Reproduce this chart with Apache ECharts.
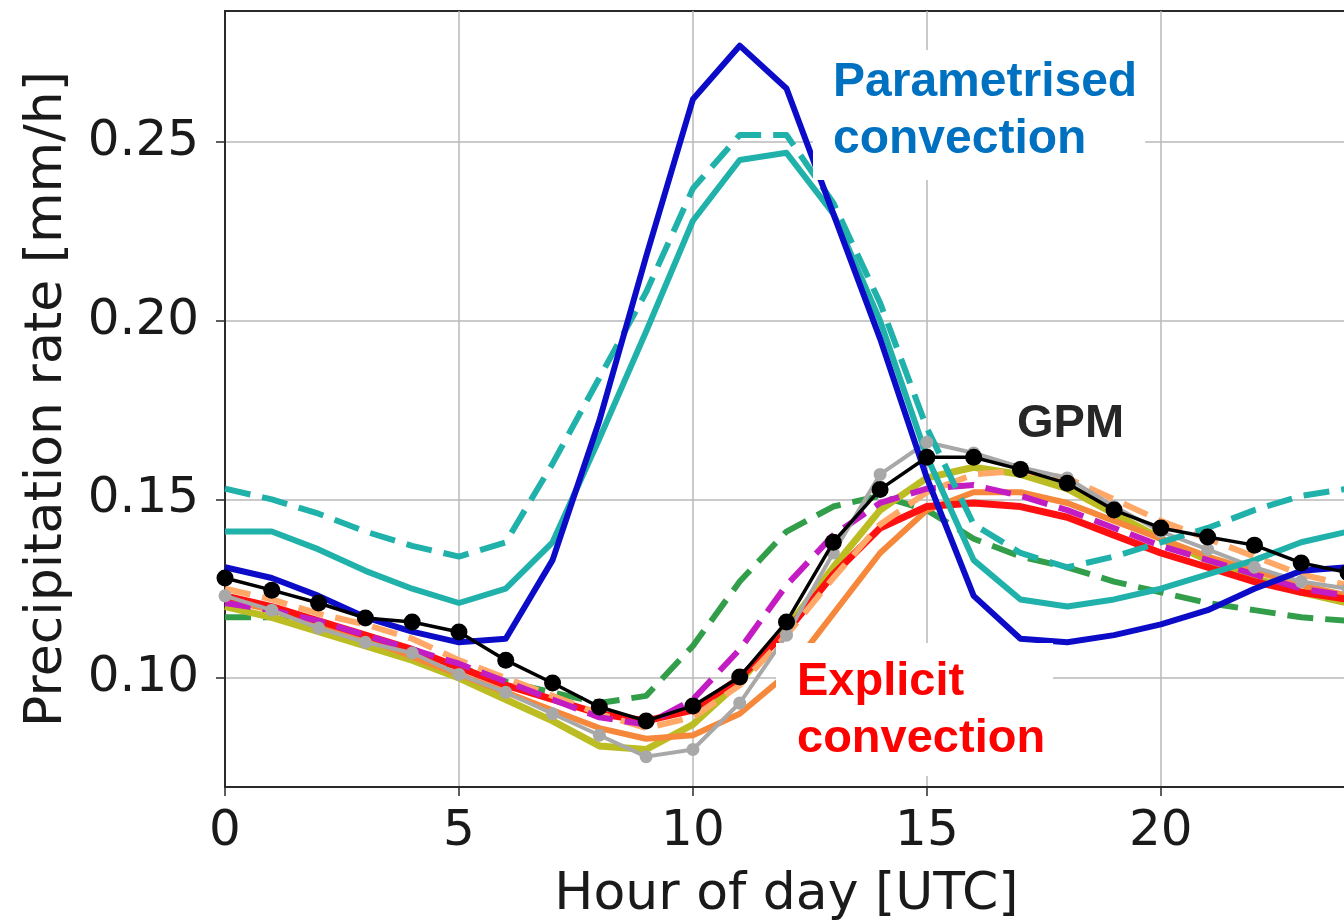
<!DOCTYPE html>
<html>
<head>
<meta charset="utf-8">
<script src="https://cdn.jsdelivr.net/npm/echarts@6/dist/echarts.min.js"></script>
<style>
html,body{margin:0;padding:0;background:#fff;}
#chart{width:1344px;height:921px;}
</style>
</head>
<body>
<div id="chart"></div>
<script>
// ---- data ----
const hours = [0,1,2,3,4,5,6,7,8,9,10,11,12,13,14,15,16,17,18,19,20,21,22,23,24];
const xTicks = [0,5,10,15,20];
const yTicks = [0.10,0.15,0.20,0.25];

// Parametrised convection
const paramBlue    = [0.131,0.128,0.123,0.117,0.113,0.110,0.111,0.133,0.172,0.218,0.262,0.277,0.265,0.230,0.195,0.156,0.123,0.111,0.110,0.112,0.115,0.119,0.125,0.130,0.131];
const paramCyan    = [0.141,0.141,0.136,0.130,0.125,0.121,0.125,0.138,0.167,0.197,0.228,0.245,0.247,0.230,0.200,0.162,0.133,0.122,0.120,0.122,0.125,0.129,0.133,0.138,0.141];
const paramCyanDsh = [0.153,0.150,0.146,0.141,0.137,0.134,0.138,0.160,0.184,0.208,0.237,0.252,0.252,0.233,0.205,0.170,0.143,0.135,0.131,0.134,0.138,0.142,0.147,0.151,0.153];

// Explicit convection
const explGreenDsh = [0.117,0.117,0.114,0.111,0.107,0.103,0.099,0.096,0.093,0.095,0.109,0.127,0.141,0.148,0.151,0.147,0.139,0.134,0.131,0.127,0.124,0.121,0.119,0.117,0.116];
const explMagenta  = [0.121,0.119,0.116,0.112,0.108,0.104,0.099,0.094,0.089,0.087,0.094,0.108,0.126,0.140,0.149,0.153,0.154,0.151,0.147,0.142,0.137,0.133,0.129,0.125,0.123];
const explRed      = [0.123,0.120,0.116,0.112,0.108,0.103,0.098,0.094,0.090,0.088,0.091,0.100,0.113,0.129,0.142,0.148,0.149,0.148,0.145,0.140,0.135,0.131,0.127,0.124,0.122];
const explOrange   = [0.122,0.119,0.115,0.111,0.106,0.101,0.096,0.091,0.086,0.083,0.084,0.090,0.101,0.118,0.135,0.147,0.152,0.152,0.149,0.144,0.139,0.134,0.130,0.126,0.123];
const explOrangeDsh= [0.125,0.122,0.118,0.115,0.111,0.105,0.100,0.095,0.090,0.086,0.089,0.098,0.112,0.128,0.143,0.152,0.157,0.158,0.156,0.150,0.144,0.139,0.134,0.129,0.126];
const explOlive    = [0.120,0.117,0.113,0.109,0.105,0.100,0.094,0.088,0.081,0.080,0.087,0.099,0.114,0.131,0.147,0.156,0.159,0.157,0.153,0.146,0.139,0.133,0.128,0.124,0.121];
const explGray     = [0.123,0.119,0.114,0.110,0.107,0.101,0.096,0.090,0.084,0.078,0.080,0.093,0.112,0.135,0.157,0.166,0.163,0.159,0.156,0.148,0.141,0.136,0.131,0.127,0.125];

// Observations
const gpm          = [0.128,0.1246,0.121,0.1168,0.1157,0.1129,0.105,0.0986,0.0919,0.088,0.0922,0.1003,0.1157,0.138,0.1528,0.1618,0.1618,0.1584,0.1545,0.147,0.142,0.1395,0.1372,0.1322,0.1295];

// ---- chart ----
const pairs = arr => hours.map((h, i) => [h, arr[i]]);
const chart = echarts.init(document.getElementById('chart'), null, {renderer: 'canvas'});

function line(data, color, opts) {
  opts = opts || {};
  return {
    type: 'line',
    data: pairs(data),
    showSymbol: !!opts.symbol,
    symbol: opts.symbol ? 'circle' : 'none',
    symbolSize: opts.symbolSize || 0,
    itemStyle: {color: color},
    lineStyle: {color: color, width: opts.width || 6, type: opts.dash ? [26, 12] : 'solid', cap: 'butt', join: 'round'},
    z: opts.z || 2,
    silent: true,
    clip: true
  };
}

const font = 'DejaVu Sans';
const option = {
  animation: false,
  backgroundColor: '#ffffff',
  grid: {left: 225, top: 11, width: 1123, height: 776, outerBoundsMode: 'none', containLabel: false,
    show: true, borderColor: '#2a2a2a', borderWidth: 2, backgroundColor: '#fff'},
  xAxis: {
    type: 'value', min: 0, max: 24,
    name: 'Hour of day [UTC]', nameLocation: 'middle', nameGap: 82,
    nameTextStyle: {fontFamily: font, fontSize: 52, color: '#1a1a1a'},
    axisLine: {onZero: false, lineStyle: {color: '#2a2a2a', width: 2}},
    axisTick: {show: true, length: 9, lineStyle: {color: '#2a2a2a', width: 1.5}, customValues: xTicks},
    axisLabel: {fontFamily: font, fontSize: 50, color: '#1a1a1a', margin: 20, customValues: xTicks},
    splitLine: {show: true, lineStyle: {color: '#b8b8b8', width: 1.5}}
  },
  yAxis: {
    type: 'value', min: 0.0695, max: 0.2867,
    name: 'Precipitation rate [mm/h]', nameLocation: 'middle', nameGap: 152, nameRotate: 90,
    nameTextStyle: {fontFamily: font, fontSize: 52, color: '#1a1a1a'},
    axisLine: {show: true, onZero: false, lineStyle: {color: '#2a2a2a', width: 2}},
    axisTick: {show: true, length: 9, lineStyle: {color: '#2a2a2a', width: 1.5}, customValues: yTicks},
    axisLabel: {fontFamily: font, fontSize: 50, color: '#1a1a1a', margin: 26, customValues: yTicks,
      formatter: v => v.toFixed(2)},
    splitLine: {show: true, lineStyle: {color: '#b8b8b8', width: 1.5}}
  },
  series: [
    line(explGreenDsh, '#339e4a', {dash: true}),
    line(explOlive, '#bcbd22', {width: 7}),
    line(explOrange, '#f5883a', {width: 6}),
    line(explRed, '#ff1010', {width: 7}),
    line(explOrangeDsh, '#ffa868', {dash: true}),
    line(explMagenta, '#c21cc2', {dash: true}),
    line(explGray, '#a8a8a8', {symbol: true, symbolSize: 13, width: 4}),
    line(paramCyan, '#20b2aa', {width: 6}),
    line(paramCyanDsh, '#20b2aa', {dash: true}),
    line(paramBlue, '#0c0cc8', {width: 6}),
    line(gpm, '#000000', {symbol: true, symbolSize: 17, width: 3.5, z: 5})
  ],
  graphic: [
    {type: 'text', x: 813, y: 50, z: 100, silent: true,
      style: {text: 'Parametrised\nconvection', fill: '#0070c0', font: 'bold 48px "Liberation Sans", Arial, sans-serif',
        lineHeight: 57, backgroundColor: '#fff', padding: [4, 8, 12, 20]}},
    {type: 'text', x: 1017, y: 396, z: 100, silent: true,
      style: {text: 'GPM', fill: '#262626', font: 'bold 47px "Liberation Sans", Arial, sans-serif', lineHeight: 56}},
    {type: 'text', x: 776, y: 643, z: 100, silent: true,
      style: {text: 'Explicit\nconvection', fill: '#ff0000', font: 'bold 47px "Liberation Sans", Arial, sans-serif',
        lineHeight: 57, backgroundColor: '#fff', padding: [11, 8, 8, 21]}}
  ]
};
chart.setOption(option);
</script>
</body>
</html>
